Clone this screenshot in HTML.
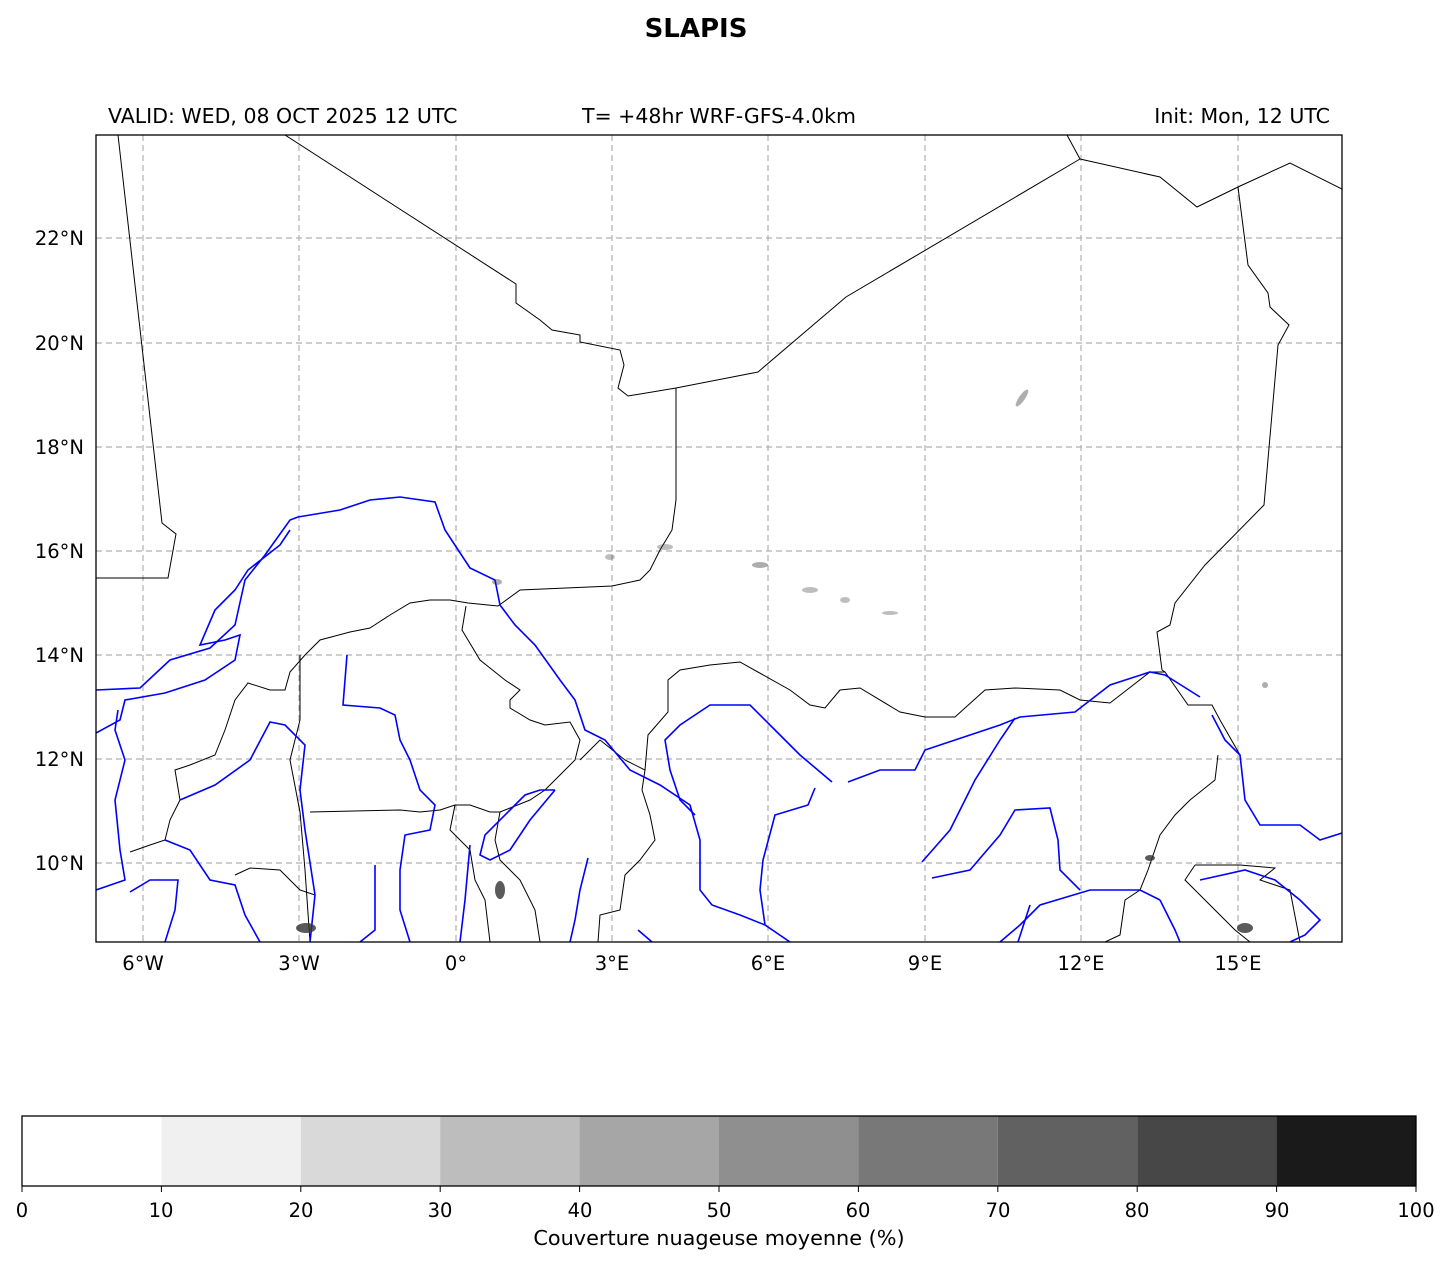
<!DOCTYPE html>
<html><head><style>
body{margin:0;background:#fff;width:1451px;height:1264px;overflow:hidden;font-family:"Liberation Sans","DejaVu Sans",sans-serif}
</style></head><body>
<svg width="1451" height="1264" xmlns="http://www.w3.org/2000/svg" font-family="DejaVu Sans, Liberation Sans, sans-serif">
<text x="696" y="37" text-anchor="middle" font-size="26" font-weight="bold">SLAPIS</text>
<text x="108" y="123" font-size="20.5">VALID: WED, 08 OCT 2025 12 UTC</text>
<text x="719" y="123" text-anchor="middle" font-size="20.5">T= +48hr WRF-GFS-4.0km</text>
<text x="1330" y="123" text-anchor="end" font-size="20.5">Init: Mon, 12 UTC</text>
<defs><clipPath id="c"><rect x="96" y="135" width="1246" height="807"/></clipPath></defs>
<g stroke="#b0b0b0" stroke-dasharray="6,4" stroke-width="1.2">
<line x1="143" y1="135" x2="143" y2="942"/><line x1="299" y1="135" x2="299" y2="942"/><line x1="456" y1="135" x2="456" y2="942"/><line x1="612" y1="135" x2="612" y2="942"/><line x1="768" y1="135" x2="768" y2="942"/><line x1="925" y1="135" x2="925" y2="942"/><line x1="1081" y1="135" x2="1081" y2="942"/><line x1="1238" y1="135" x2="1238" y2="942"/>
<line x1="96" y1="238" x2="1342" y2="238"/><line x1="96" y1="343" x2="1342" y2="343"/><line x1="96" y1="447" x2="1342" y2="447"/><line x1="96" y1="551" x2="1342" y2="551"/><line x1="96" y1="655" x2="1342" y2="655"/><line x1="96" y1="759" x2="1342" y2="759"/><line x1="96" y1="863" x2="1342" y2="863"/>
</g>
<g clip-path="url(#c)" fill="none">
<g stroke="#000" stroke-width="1">
<polyline points="118,135 162,523 176,534 168,578 96,578"/>
<polyline points="285,135 516,284 516,303 540,320 552,330 580,335 580,342 620,350 624,365 618,388 628,396 676,388 758,372 846,297 1080,159 1067,135"/>
<polyline points="1080,159 1160,177 1197,207 1238,187 1290,163 1342,189"/>
<polyline points="1238,187 1248,265 1268,293 1270,307 1289,325 1278,345 1264,505 1205,565 1175,603 1170,625 1157,632 1162,670 1165,672 1188,705 1212,705 1220,720 1240,755"/>
<polyline points="676,388 676,500 672,530 660,550 650,570 640,580 612,586 520,590 498,606 468,603 450,600 430,600 410,603 390,615 370,628 350,632 320,640 305,655 290,672 285,690 270,690 248,683 235,700 225,730 215,755 190,765 175,770 180,800 170,820 165,840 150,845 130,852"/>
<polyline points="466,606 462,630 480,660 505,680 520,690 510,700 510,708 530,720 545,725 570,722 580,740 575,760 560,775 545,790 530,800 500,812 490,812 470,805 455,805 440,810 420,812 400,810 310,812"/>
<polyline points="580,760 600,740 625,760 645,770 642,790 650,815 655,840 640,860 625,875 620,910 600,915 598,942"/>
<polyline points="645,770 648,735 668,712 668,680 680,670 710,665 740,662 790,690 810,705 825,708 840,690 860,688 900,712 925,717 955,717 985,690 1015,688 1060,690 1080,700 1110,703 1150,672 1165,672"/>
<polyline points="1218,755 1215,780 1190,800 1175,815 1160,835 1148,870 1140,890 1125,900 1120,935 1105,942"/>
<polyline points="1195,865 1240,865 1275,868 1260,880 1290,890 1300,942"/>
<polyline points="1195,865 1185,880 1210,905 1235,930 1250,942"/>
<polyline points="455,805 450,830 470,850 475,880 485,900 490,942"/>
<polyline points="500,812 495,840 500,860 520,880 535,910 540,942"/>
<polyline points="300,655 300,720 290,760 300,812 305,870 310,942"/>
<polyline points="235,875 250,868 280,870 300,890 315,895"/>
</g>
<g stroke="#0000ff" stroke-width="1.6">
<polyline points="96,690 140,688 170,660 210,648 235,625 245,580 265,555 290,520 298,517 340,510 370,500 400,497 435,502 445,530 470,568 495,580 500,605 515,625 535,645 560,680 575,700 585,730 605,740 630,770 660,785 690,805 700,840 700,890 712,905 740,915 765,925 790,942"/>
<polyline points="96,733 120,720 125,700 165,693 205,680 235,660 240,635 225,640 200,645 215,610 235,590 248,570 280,545 290,530"/>
<polyline points="96,890 125,880 120,850 115,800 125,760 115,730 118,710"/>
<polyline points="180,800 215,785 250,760 270,722 285,725 305,745 300,790 305,830 315,895 310,942"/>
<polyline points="347,655 343,705 380,708 395,715 400,740 410,760 420,790 435,805 430,830 405,835 400,870 400,910 410,942"/>
<polyline points="130,892 150,880 178,880 175,910 165,942"/>
<polyline points="165,840 190,850 210,880 235,885 245,915 260,942"/>
<polyline points="375,865 375,930 360,942"/>
<polyline points="470,845 465,900 460,942"/>
<polyline points="555,790 530,820 520,835 510,850 490,860 480,855 485,835 510,810 525,795 540,790 555,790"/>
<polyline points="588,858 580,890 575,920 570,942"/>
<polyline points="638,930 652,942"/>
<polyline points="832,782 800,755 775,730 750,705 710,705 680,725 665,740 670,770 680,800 695,815"/>
<polyline points="815,788 808,805 775,815 763,860 760,890 765,925"/>
<polyline points="848,782 880,770 915,770 925,750 1000,725 1020,717 1075,712 1110,685 1150,672 1165,675 1200,697"/>
<polyline points="922,862 950,830 975,780 1000,740 1015,718"/>
<polyline points="932,878 970,870 1000,835 1015,810 1050,808 1058,840 1060,870 1080,890"/>
<polyline points="1160,900 1140,890 1090,890 1040,905 1020,925 1000,942"/>
<polyline points="1160,900 1175,930 1180,942"/>
<polyline points="1212,715 1225,740 1240,755 1245,800 1260,825 1300,825 1320,840 1342,833"/>
<polyline points="1200,880 1245,870 1275,880 1300,900 1320,920 1305,935 1290,942"/>
<polyline points="1018,942 1030,905"/>
</g>
<g fill="#333" opacity="0.8">
<ellipse cx="306" cy="928" rx="10" ry="5"/><ellipse cx="1245" cy="928" rx="8" ry="5"/><ellipse cx="500" cy="890" rx="5" ry="9"/><ellipse cx="1150" cy="858" rx="5" ry="3"/>
<ellipse cx="1022" cy="398" rx="3" ry="10" transform="rotate(35 1022 398)" opacity="0.5"/>
<ellipse cx="610" cy="557" rx="5" ry="3" opacity="0.4"/><ellipse cx="665" cy="547" rx="8" ry="3" opacity="0.4"/><ellipse cx="760" cy="565" rx="8" ry="3" opacity="0.5"/><ellipse cx="810" cy="590" rx="8" ry="3" opacity="0.4"/><ellipse cx="845" cy="600" rx="5" ry="3" opacity="0.4"/><ellipse cx="890" cy="613" rx="8" ry="2" opacity="0.4"/><ellipse cx="497" cy="582" rx="5" ry="3" opacity="0.5"/><ellipse cx="1265" cy="685" rx="3" ry="3" opacity="0.5"/>
</g>
</g>
<rect x="96" y="135" width="1246" height="807" fill="none" stroke="#000" stroke-width="1.3"/>
<g font-size="19.5" text-anchor="end">
<text x="84" y="245">22°N</text><text x="84" y="350">20°N</text><text x="84" y="454">18°N</text><text x="84" y="558">16°N</text><text x="84" y="662">14°N</text><text x="84" y="766">12°N</text><text x="84" y="870">10°N</text>
</g>
<g font-size="19.5" text-anchor="middle">
<text x="143" y="970">6°W</text><text x="299" y="970">3°W</text><text x="456" y="970">0°</text><text x="612" y="970">3°E</text><text x="768" y="970">6°E</text><text x="925" y="970">9°E</text><text x="1081" y="970">12°E</text><text x="1238" y="970">15°E</text>
</g>
<g stroke="none">
<rect x="22" y="1116" width="139.4" height="70" fill="#ffffff"/>
<rect x="161.4" y="1116" width="139.4" height="70" fill="#f0f0f0"/>
<rect x="300.8" y="1116" width="139.4" height="70" fill="#d9d9d9"/>
<rect x="440.2" y="1116" width="139.4" height="70" fill="#bdbdbd"/>
<rect x="579.6" y="1116" width="139.4" height="70" fill="#a6a6a6"/>
<rect x="719" y="1116" width="139.4" height="70" fill="#8f8f8f"/>
<rect x="858.4" y="1116" width="139.4" height="70" fill="#787878"/>
<rect x="997.8" y="1116" width="139.4" height="70" fill="#616161"/>
<rect x="1137.2" y="1116" width="139.4" height="70" fill="#474747"/>
<rect x="1276.6" y="1116" width="139.4" height="70" fill="#1a1a1a"/>
</g>
<rect x="22" y="1116" width="1394" height="70" fill="none" stroke="#000" stroke-width="1.3"/>
<g stroke="#000"><line x1="22" y1="1186" x2="22" y2="1192"/><line x1="161.4" y1="1186" x2="161.4" y2="1192"/><line x1="300.8" y1="1186" x2="300.8" y2="1192"/><line x1="440.2" y1="1186" x2="440.2" y2="1192"/><line x1="579.6" y1="1186" x2="579.6" y2="1192"/><line x1="719" y1="1186" x2="719" y2="1192"/><line x1="858.4" y1="1186" x2="858.4" y2="1192"/><line x1="997.8" y1="1186" x2="997.8" y2="1192"/><line x1="1137.2" y1="1186" x2="1137.2" y2="1192"/><line x1="1276.6" y1="1186" x2="1276.6" y2="1192"/><line x1="1416" y1="1186" x2="1416" y2="1192"/></g>
<g font-size="19.5" text-anchor="middle">
<text x="22" y="1217">0</text><text x="161" y="1217">10</text><text x="301" y="1217">20</text><text x="440" y="1217">30</text><text x="580" y="1217">40</text><text x="719" y="1217">50</text><text x="858" y="1217">60</text><text x="998" y="1217">70</text><text x="1137" y="1217">80</text><text x="1277" y="1217">90</text><text x="1416" y="1217">100</text>
</g>
<text x="719" y="1245" text-anchor="middle" font-size="20.8">Couverture nuageuse moyenne (%)</text>
</svg>
</body></html>
